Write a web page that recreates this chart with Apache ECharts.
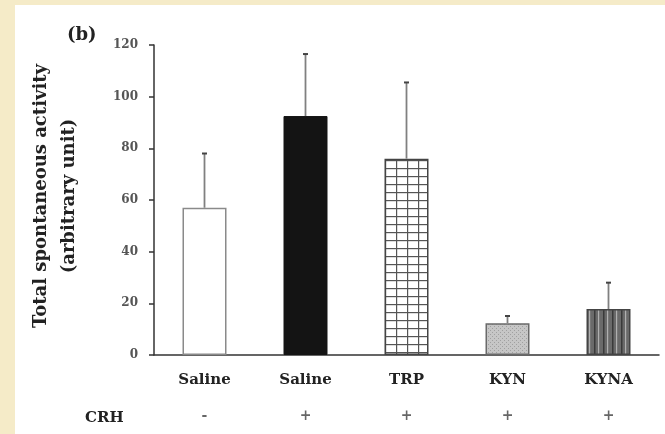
<!DOCTYPE html>
<html>
<head>
<meta charset="utf-8">
<script src="https://cdn.jsdelivr.net/npm/echarts@6/dist/echarts.min.js"></script>
<style>
html,body{margin:0;padding:0;background:#F5EBC8;}
#c{width:665px;height:434px;}
</style>
</head>
<body>
<div id="c"></div>
<script>
// ---- data ----
var categories = ['Saline', 'Saline', 'TRP', 'KYN', 'KYNA'];
var crh = ['-', '+', '+', '+', '+'];
var means = [57, 92.5, 76, 12.3, 17.8];
var sds = [21, 24, 29.5, 2.8, 10.2];
var yTicks = [0, 20, 40, 60, 80, 100, 120];

// ---- fill patterns ----
function makeCanvas(w, h, draw) {
  var c = document.createElement('canvas');
  c.width = w; c.height = h;
  draw(c.getContext('2d'), w, h);
  return c;
}
var gridPat = makeCanvas(11, 8, function (g, w, h) {
  g.fillStyle = '#ffffff'; g.fillRect(0, 0, w, h);
  g.fillStyle = '#555555';
  g.fillRect(0, 0, 1.2, h);
  g.fillRect(0, 0, w, 1.2);
});
var dotPat = makeCanvas(4, 4, function (g, w, h) {
  g.fillStyle = '#c6c6c6'; g.fillRect(0, 0, w, h);
  g.fillStyle = '#a0a0a0';
  g.fillRect(0, 0, 1, 1); g.fillRect(2, 2, 1, 1);
});
var stripePat = makeCanvas(9, 4, function (g, w, h) {
  g.fillStyle = '#6a6a6a'; g.fillRect(0, 0, w, h);
  g.fillStyle = '#3a3a3a'; g.fillRect(0, 0, 1.5, h);
  g.fillStyle = '#b0b0b0'; g.fillRect(4, 0, 1.2, h);
});

var styles = [
  { color: '#ffffff', borderColor: '#8a8a8a', borderWidth: 1.5 },
  { color: '#141414', borderColor: '#141414', borderWidth: 1 },
  { color: { image: gridPat, repeat: 'repeat' }, borderColor: '#444', borderWidth: 1.5 },
  { color: { image: dotPat, repeat: 'repeat' }, borderColor: '#6a6a6a', borderWidth: 1.5 },
  { color: { image: stripePat, repeat: 'repeat' }, borderColor: '#444', borderWidth: 1.5 }
];

var barData = means.map(function (v, i) {
  return { value: v, itemStyle: styles[i] };
});
var errData = means.map(function (v, i) { return [i, v, v + sds[i]]; });

var serif = 'DejaVu Serif';
var chart = echarts.init(document.getElementById('c'), null, { renderer: 'canvas' });
chart.setOption({
  backgroundColor: '#F5EBC8',
  animation: false,
  graphic: [{
    type: 'rect', left: 15, top: 5, z: -10,
    shape: { width: 650, height: 429 },
    style: { fill: '#ffffff' }
  }],
  title: [
    { text: '(b)', left: 62, top: 21, textStyle: { fontFamily: serif, fontWeight: 'bold', fontSize: 18, color: '#222' } },
    { text: 'CRH', left: 80, top: 406, textStyle: { fontFamily: serif, fontWeight: 'bold', fontSize: 15, color: '#222' } }
  ],
  grid: { left: 154, right: 6, top: 45, bottom: 79 },
  xAxis: {
    type: 'category',
    data: categories,
    axisTick: { show: false },
    axisLine: { lineStyle: { color: '#333', width: 1.5 } },
    axisLabel: {
      margin: 15,
      interval: 0,
      formatter: function (value, idx) {
        return '{a|' + value + '}\n{b|' + crh[idx] + '}';
      },
      rich: {
        a: { fontFamily: serif, fontWeight: 'bold', fontSize: 15, color: '#222', lineHeight: 20 },
        b: { fontFamily: serif, fontWeight: 'bold', fontSize: 14, color: '#666', lineHeight: 52 }
      }
    }
  },
  yAxis: {
    type: 'value',
    min: yTicks[0],
    max: yTicks[yTicks.length - 1],
    interval: yTicks[1] - yTicks[0],
    splitLine: { show: false },
    axisLine: { show: true, lineStyle: { color: '#333', width: 1.5 } },
    axisTick: { show: true, length: 5, lineStyle: { color: '#333', width: 1.5 } },
    axisLabel: { margin: 16, fontFamily: serif, fontWeight: 'bold', fontSize: 12, color: '#555' },
    name: 'Total spontaneous activity\n(arbitrary unit)',
    nameLocation: 'middle',
    nameGap: 71,
    nameTextStyle: {
      fontFamily: serif, fontWeight: 'bold', fontSize: 18, color: '#222',
      lineHeight: 28, padding: [0, 0, 0, 8]
    }
  },
  series: [
    {
      type: 'bar',
      data: barData,
      barWidth: 44,
      z: 2
    },
    {
      type: 'custom',
      z: 3,
      data: errData,
      encode: { x: 0, y: [1, 2] },
      renderItem: function (params, api) {
        var i = api.value(0);
        var lo = api.coord([i, api.value(1)]);
        var hi = api.coord([i, api.value(2)]);
        return {
          type: 'group',
          children: [
            { type: 'line', shape: { x1: lo[0], y1: lo[1], x2: hi[0], y2: hi[1] },
              style: { stroke: '#808080', lineWidth: 1.8 } },
            { type: 'line', shape: { x1: hi[0] - 2.5, y1: hi[1], x2: hi[0] + 2.5, y2: hi[1] },
              style: { stroke: '#444', lineWidth: 2 } }
          ]
        };
      }
    }
  ]
});
</script>
</body>
</html>
